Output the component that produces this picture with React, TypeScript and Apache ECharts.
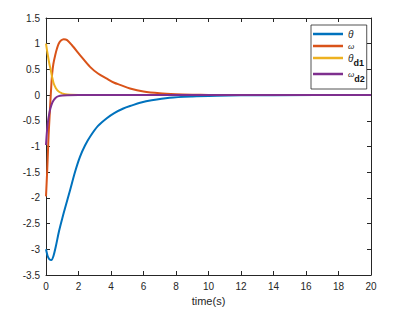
import React, { useEffect, useRef } from "react";
import * as echarts from "echarts";

const thetaT = [0, 0.1, 0.2, 0.33, 0.45, 0.6, 0.8, 1.0, 1.17, 1.48, 1.79, 2.09, 2.4, 2.71, 3.2, 3.74, 4.2, 4.76, 5.3, 5.79, 6.5, 7.6, 9, 10.5, 12, 14, 20];
const thetaV = [-3.0, -3.13, -3.19, -3.21, -3.14, -2.95, -2.65, -2.4, -2.2, -1.85, -1.49, -1.2, -0.98, -0.81, -0.6, -0.45, -0.35, -0.26, -0.2, -0.15, -0.1, -0.05, -0.025, -0.012, -0.005, -0.001, 0];

const omegaT = [0, 0.04, 0.08, 0.12, 0.16, 0.22, 0.27, 0.32, 0.37, 0.45, 0.57, 0.68, 0.78, 0.92, 1.09, 1.3, 1.6, 2.17, 2.71, 3.2, 3.74, 4.2, 4.56, 5.17, 6, 7, 8, 9, 10, 12, 20];
const omegaV = [-1.97, -1.7, -1.42, -1.1, -0.78, -0.42, -0.13, 0.15, 0.39, 0.6, 0.78, 0.91, 1.0, 1.06, 1.085, 1.07, 0.97, 0.75, 0.55, 0.42, 0.32, 0.24, 0.2, 0.13, 0.07, 0.035, 0.018, 0.009, 0.004, 0.001, 0];

const thetaD1T = [0, 0.1, 0.2, 0.27, 0.37, 0.47, 0.6, 0.78, 1.0, 1.19, 1.5, 2, 3, 20];
const thetaD1V = [1.0, 0.8, 0.62, 0.52, 0.36, 0.23, 0.14, 0.07, 0.035, 0.015, 0.005, 0.001, 0, 0];

const omegaD2T = [0, 0.06, 0.12, 0.2, 0.27, 0.37, 0.47, 0.6, 0.78, 1.0, 1.3, 2, 3, 20];
const omegaD2V = [-0.97, -0.7, -0.52, -0.36, -0.26, -0.16, -0.1, -0.05, -0.02, -0.008, -0.002, 0, 0, 0];

const seriesNames = ["θ", "ω", "θd1", "ωd2"];
const seriesColors = ["#0072BD", "#D95319", "#EDB120", "#7E2F8E"];
const xLabel = "time(s)";

const pairs = (t: number[], v: number[]) => t.map((x, i) => [x, v[i]]);

export default function App() {
  const ref = useRef<HTMLDivElement>(null);
  useEffect(() => {
    const chart = echarts.init(ref.current!, null, { renderer: "svg" });
    const font = "Liberation Sans, Arial, sans-serif";
    const axisLine = () => ({ show: true, onZero: false, lineStyle: { color: "#262626", width: 1 } });
    const tick = () => ({ show: true, inside: true, length: 4, lineStyle: { color: "#262626", width: 1 } });
    const dataSets = [
      pairs(thetaT, thetaV),
      pairs(omegaT, omegaV),
      pairs(thetaD1T, thetaD1V),
      pairs(omegaD2T, omegaD2V),
    ];
    const legendRich: Record<string, string> = {
      "θ": "{i|θ}",
      "ω": "{w|ω}",
      "θd1": "{i|θ}{s|d1}",
      "ωd2": "{w|ω}{s|d2}",
    };
    chart.setOption({
      animation: false,
      backgroundColor: "#ffffff",
      grid: { left: 46, right: 43, top: 18, bottom: 37 },
      xAxis: [
        {
          type: "value",
          position: "bottom",
          min: 0,
          max: 20,
          interval: 2,
          name: xLabel,
          nameLocation: "middle",
          nameGap: 18,
          nameTextStyle: { fontFamily: font, fontSize: 11, color: "#262626" },
          axisLine: axisLine(),
          axisTick: tick(),
          splitLine: { show: false },
          axisLabel: { fontFamily: font, fontSize: 10, color: "#262626", margin: 6 },
        },
        {
          type: "value",
          position: "top",
          min: 0,
          max: 20,
          interval: 2,
          axisLine: axisLine(),
          axisTick: tick(),
          splitLine: { show: false },
          axisLabel: { show: false },
        },
      ],
      yAxis: [
        {
          type: "value",
          position: "left",
          min: -3.5,
          max: 1.5,
          interval: 0.5,
          axisLine: axisLine(),
          axisTick: tick(),
          splitLine: { show: false },
          axisLabel: { fontFamily: font, fontSize: 10, color: "#262626", margin: 6 },
        },
        {
          type: "value",
          position: "right",
          min: -3.5,
          max: 1.5,
          interval: 0.5,
          axisLine: axisLine(),
          axisTick: tick(),
          splitLine: { show: false },
          axisLabel: { show: false },
        },
      ],
      legend: {
        orient: "vertical",
        left: 311,
        top: 25,
        padding: [4, 2, 6, 2],
        itemGap: 3,
        itemWidth: 30,
        itemHeight: 2.5,
        icon: "rect",
        backgroundColor: "#ffffff",
        borderColor: "#262626",
        borderWidth: 0.8,
        borderRadius: 0,
        data: seriesNames,
        formatter: (name: string) => legendRich[name] || name,
        textStyle: {
          fontFamily: font,
          color: "#262626",
          rich: {
            i: { fontFamily: font, fontSize: 10, fontStyle: "italic", color: "#262626" },
            w: { fontFamily: font, fontSize: 8, fontStyle: "italic", color: "#262626" },
            s: { fontFamily: font, fontSize: 9, fontWeight: "bold", color: "#111", padding: [9, 0, 0, 0] },
          },
        },
      },
      series: seriesNames.map((n, i) => ({
        name: n,
        type: "line",
        xAxisIndex: 0,
        yAxisIndex: 0,
        data: dataSets[i],
        showSymbol: false,
        symbol: "none",
        smooth: 0.3,
        lineStyle: { color: seriesColors[i], width: 2 },
        itemStyle: { color: seriesColors[i] },
        z: 2 + i,
      })),
    });
    return () => chart.dispose();
  }, []);
  return (
    <div
      ref={ref}
      style={{ position: "fixed", left: 0, top: 0, width: 414, height: 312 }}
    />
  );
}
